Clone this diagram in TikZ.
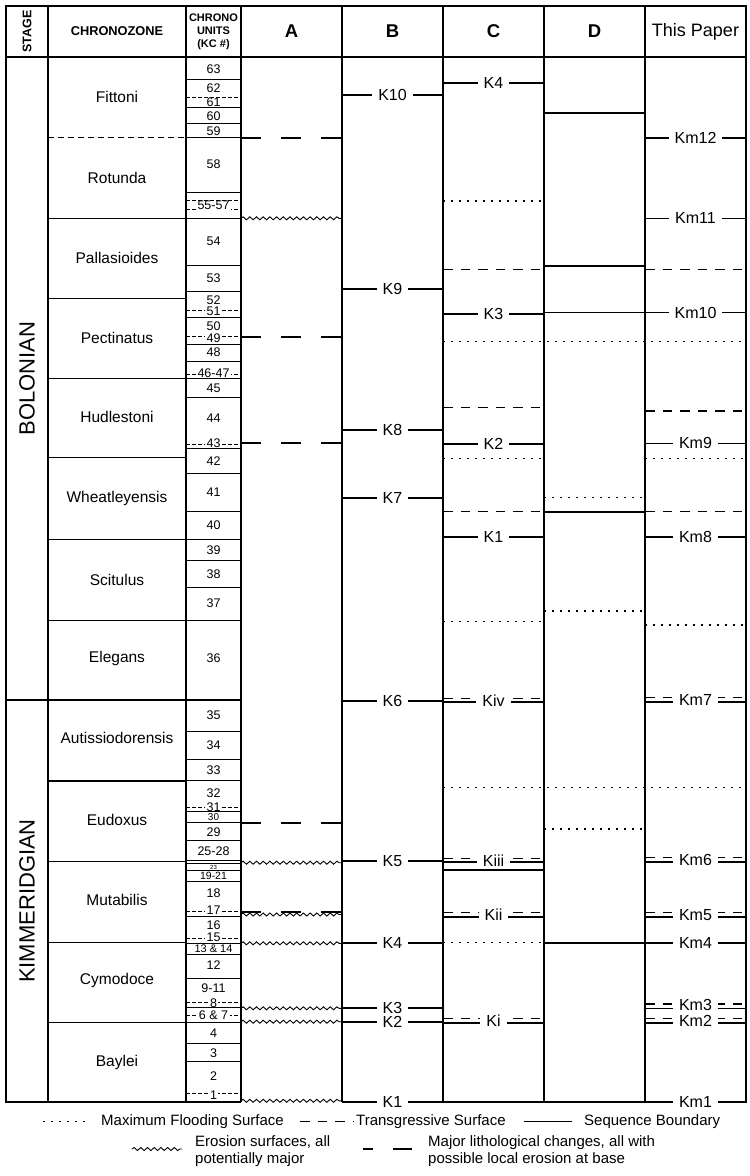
\documentclass[tikz,border=0pt]{standalone}
\usepackage{fontspec}
\setmainfont{Liberation Sans}
\usetikzlibrary{decorations.pathmorphing}
\newcommand{\setfs}[2]{\fontsize{#1}{#2}\selectfont}

\begin{document}
\begin{tikzpicture}[x=1pt, y=-1pt,
  outer/.style={line width=2pt},
  colrule/.style={line width=1.3pt},
  zonerule/.style={line width=1.3pt},
  unitrule/.style={line width=0.6pt},
  unitcut/.style={line width=0.6pt, dash pattern=on 4pt off 2pt},
  sb/.style={line width=1.6pt},
  ts/.style={line width=1.2pt, dash pattern=on 9.5pt off 8pt},
  mfs/.style={line width=1.1pt, dash pattern=on 1.5pt off 6.5pt},
  lith/.style={line width=1.8pt, dash pattern=on 20pt off 20pt},
  eros/.style={line width=0.9pt, decorate, decoration={snake, segment length=6.7pt, amplitude=1.5pt}},
  klabel/.style={fill=white, inner xsep=6pt, inner ysep=0.5pt, font=\setfs{16}{18}},
  unitnum/.style={inner sep=0pt, font=\setfs{12.5}{14}},
  unitnumcut/.style={unitnum, fill=white, inner xsep=1.5pt},
  zonelabel/.style={font=\setfs{15.5}{18}},
  stagelabel/.style={rotate=90, font=\setfs{22}{24}},
  colhead/.style={font=\bfseries\setfs{18.5}{20}},
  legendtext/.style={anchor=west, inner sep=0pt, align=left, font=\setfs{15}{17.5}}
]
\useasboundingbox (0,0) rectangle (750,1176);

% frame, header and column rules
\draw[outer] (241,1102) -- (6,1102) -- (6,6) -- (746,6) -- (746,1102) -- (342,1102);
\draw[outer] (6,57) -- (746,57);
\foreach \x in {48,186,241} \draw[outer] (\x,6) -- (\x,1102);
\foreach \x in {342,443,544,645} \draw[colrule] (\x,6) -- (\x,1102);
\draw[eros] (241,1100.8) -- (342,1100.8);

% header
\node[rotate=90, font=\bfseries\setfs{12.5}{14}] (hstage) at (27,31.5) {STAGE};
\node[font=\bfseries\setfs{12.8}{14}] (hzone) at (117,31.5) {CHRONOZONE};
\node[font=\bfseries\setfs{11}{13}, align=center, inner sep=0pt] (hunits) at (213.5,31.5) {CHRONO\\UNITS\\(KC \#)};
\node[colhead] (ha) at (291.5,31.5) {A};
\node[colhead] (hb) at (392.5,31.5) {B};
\node[colhead] (hc) at (493.5,31.5) {C};
\node[colhead] (hd) at (594.5,31.5) {D};
\node[font=\setfs{18}{20}] (hthis) at (695.5,31.5) {This Paper};

% stages
\draw[outer] (6,700) -- (241,700);
\node[stagelabel] (sbol) at (27,378.5) {BOLONIAN};
\node[stagelabel] (skim) at (27,901) {KIMMERIDGIAN};

% chronozones
\draw[zonerule, dash pattern=on 6pt off 4pt] (48,137.7) -- (186,137.7);
\foreach \y in {218.3,298.3,378.3,457.7,539.3,620.7,781,861.7,942.7,1022.3}
  \draw[zonerule] (48,\y) -- (186,\y);
\foreach \y/\t in {96.7/Fittoni, 177.7/Rotunda, 257.7/Pallasioides, 337.7/Pectinatus,
  416.7/Hudlestoni, 498.5/Wheatleyensis, 580/Scitulus, 658/Elegans,
  738.3/Autissiodorensis, 820/Eudoxus, 900/Mutabilis, 980/Cymodoce, 1062/Baylei}
  \node[zonelabel] (z\t) at (117,\y) {\t};

% chrono units
\foreach \y in {79,107.3,123.3,137.7,192.7,218.3,265,291,317.7,344.3,361.7,378.3,397.3,
  448.3,473.3,511.3,539.3,560,587.3,620.7,731.7,759.3,780.7,811.7,822.7,840,860.7,
  863.5,870.5,881,916.7,954,978.3,1007.7,1043.3,1061}
  \draw[unitrule] (186,\y) -- (241,\y);
\foreach \y in {943.3,1022.3} \draw[zonerule] (186,\y) -- (241,\y);
\foreach \y in {97.7,200.7,209.3,310.7,336.7,374,444,807.3,911.7,938,1002.7,1015,1093}
  \draw[unitcut] (186,\y) -- (241,\y);
\foreach \y/\t [count=\i] in {69/63, 88/62, 116/60, 131/59, 164/58, 241.7/54, 277.7/53, 300/52,
  325.7/50, 352/48, 388.3/45, 418.3/44, 461/42, 491.7/41, 525/40, 550.3/39, 574.3/38,
  603.3/37, 657.7/36, 715/35, 745/34, 770/33, 793.3/32, 832.3/29, 851/25-28, 893.3/18,
  925/16, 965/12, 988.3/9-11, 1032.7/4, 1052.7/3, 1076.5/2}
  \node[unitnum] (u\i) at (213.5,\y) {\t};
\foreach \y/\t [count=\i] in {102/61, 205.5/55-57, 311.7/51, 338.3/49, 372.7/46-47, 443.3/43,
  806.7/31, 910/17, 937/15, 1002.7/8, 1015/6 \& 7, 1095/1}
  \node[unitnumcut] (uc\i) at (213.5,\y) {\t};
\node[unitnum, font=\setfs{10}{11}] (u30) at (213.5,817.2) {30};
\node[unitnum, font=\setfs{6}{7}] (u23) at (213.5,867) {23};
\node[unitnum, font=\setfs{10.5}{12}] (u19) at (213.5,876) {19-21};
\node[unitnum, font=\setfs{11}{12}] (u13) at (213.5,949) {13 \& 14};

% column A
\foreach \y in {137.7,336.7,443.3,822.7,911.7} \draw[lith] (241,\y) -- (342,\y);
\foreach \y in {218.3,862.7,914.5,943.3,1008.3,1021.7} \draw[eros] (241,\y) -- (342,\y);

% column B
\foreach \y/\t in {95/K10, 289/K9, 430/K8, 498/K7, 700.7/K6, 861/K5, 943/K4, 1008/K3, 1022/K2} {
  \draw[sb] (342,\y) -- (443,\y);
  \node[klabel] (b\t) at (392.5,\y) {\t};
}
\node[klabel] (bK1) at (392.5,1102) {K1};

% column C
\foreach \y/\t in {82.7/K4, 314/K3, 444/K2, 536.7/K1} {
  \draw[sb] (443,\y) -- (544,\y);
  \node[klabel] (c\t) at (493.5,\y) {\t};
}
\foreach \y/\t in {700.5/Kiv, 860.5/Kiii, 915/Kii, 1021/Ki} {
  \draw[ts] (443,{\y-2.3}) -- (544,{\y-2.3});
  \draw[sb] (443,{\y+1.7}) -- (544,{\y+1.7});
  \node[klabel] (c\t) at (493.5,\y) {\t};
}
\foreach \y in {269.3,407.3,511.3} \draw[ts] (443,\y) -- (544,\y);
\foreach \y in {201,458.7,621.7,942.7} \draw[mfs] (443,\y) -- (544,\y);
\foreach \y in {341.7,787.7} \draw[mfs] (443,\y) -- (746,\y);
\draw[colrule] (443,870) -- (544,870);

% column D
\foreach \y in {112.7,265.7,312.5,511.7,943} \draw[sb] (544,\y) -- (645,\y);
\foreach \y in {497.7,611,829} \draw[mfs] (544,\y) -- (645,\y);

% this paper
\foreach \y/\t in {137.7/Km12, 218.3/Km11, 312.5/Km10, 443.3/Km9, 536.7/Km8, 943/Km4} {
  \draw[sb] (645,\y) -- (746,\y);
  \node[klabel] (p\t) at (695.5,\y) {\t};
}
\foreach \y/\t in {700/Km7, 860/Km6, 915/Km5, 1021/Km2} {
  \draw[ts] (645,{\y-2.3}) -- (746,{\y-2.3});
  \draw[sb] (645,{\y+1.7}) -- (746,{\y+1.7});
  \node[klabel] (p\t) at (695.5,\y) {\t};
}
\draw[ts] (645,1004) -- (746,1004);
\draw[sb] (645,1008.3) -- (746,1008.3);
\node[klabel] (pKm3) at (695.5,1004.5) {Km3};
\node[klabel] (pKm1) at (695.5,1102) {Km1};
\foreach \y in {269.3,411,511.3} \draw[ts] (645,\y) -- (746,\y);
\foreach \y in {458.7,625} \draw[mfs] (645,\y) -- (746,\y);

% legend
\draw[mfs] (43,1121.5) -- (91,1121.5);
\node[legendtext] (lgmfs) at (101,1121.5) {Maximum Flooding Surface};
\draw[ts] (300,1121.5) -- (353,1121.5);
\node[legendtext] (lgts) at (356,1121.5) {Transgressive Surface};
\draw[sb] (524,1121.5) -- (572,1121.5);
\node[legendtext] (lgsb) at (584,1121.5) {Sequence Boundary};
\draw[eros] (132,1149) -- (182,1149);
\node[legendtext] (lgero) at (195,1151) {Erosion surfaces, all\\potentially major};
\draw[lith] (363,1149) -- (373,1149);
\draw[lith] (393,1149) -- (412,1149);
\node[legendtext] (lglith) at (428,1151) {Major lithological changes, all with\\possible local erosion at base};
\end{tikzpicture}
\end{document}
